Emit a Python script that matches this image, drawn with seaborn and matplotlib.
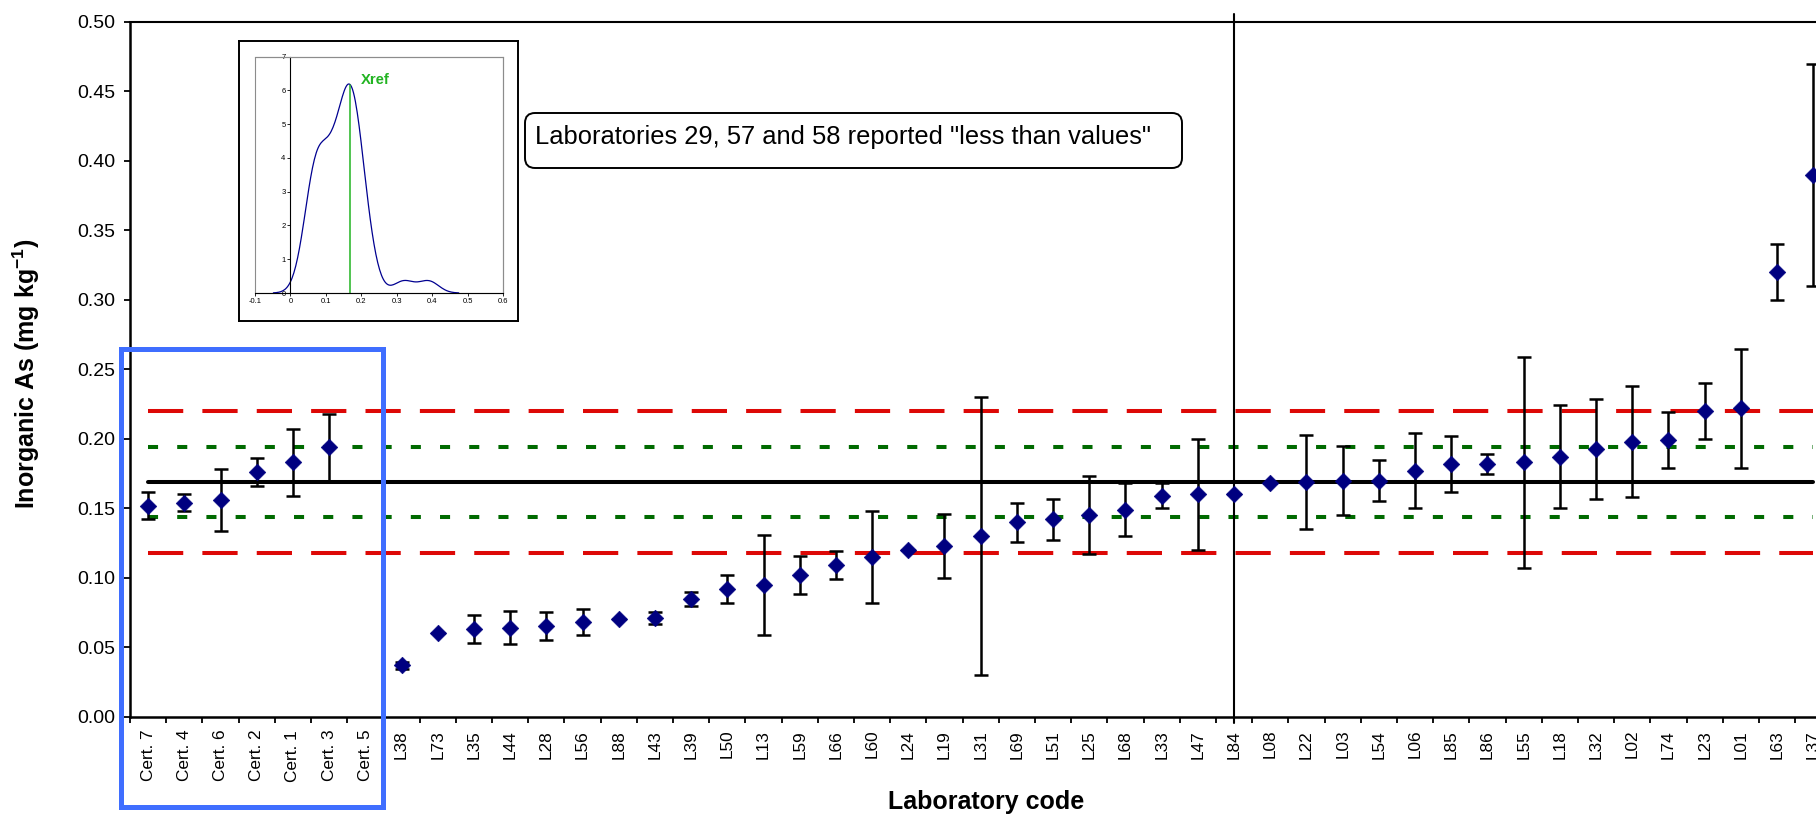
import numpy as np
import matplotlib
matplotlib.use("Agg")
import matplotlib.pyplot as plt
from matplotlib.patches import Rectangle, FancyBboxPatch
from matplotlib.ticker import FormatStrFormatter
import seaborn as sns

# ---------------------------------------------------------------- data
codes = ["Cert. 7", "Cert. 4", "Cert. 6", "Cert. 2", "Cert. 1", "Cert. 3", "Cert. 5",
         "L38", "L73", "L35", "L44", "L28", "L56", "L88", "L43", "L39", "L50", "L13",
         "L59", "L66", "L60", "L24", "L19", "L31", "L69", "L51", "L25", "L68", "L33",
         "L47", "L84", "L08", "L22", "L03", "L54", "L06", "L85", "L86", "L55", "L18",
         "L32", "L02", "L74", "L23", "L01", "L63", "L37"]
values = [0.152, 0.154, 0.156, 0.176, 0.183, 0.194, np.nan,
          0.037, 0.060, 0.063, 0.064, 0.065, 0.068, 0.070, 0.071, 0.085, 0.092, 0.095,
          0.102, 0.109, 0.115, 0.120, 0.123, 0.130, 0.140, 0.142, 0.145, 0.149, 0.159,
          0.160, 0.160, 0.168, 0.169, 0.170, 0.170, 0.177, 0.182, 0.182, 0.183, 0.187,
          0.193, 0.198, 0.199, 0.220, 0.222, 0.320, 0.390]
uncert = [0.010, 0.006, 0.022, 0.010, 0.024, 0.024, np.nan,
          0.0025, 0.0, 0.010, 0.012, 0.010, 0.0095, 0.0, 0.004, 0.005, 0.010, 0.036,
          0.014, 0.010, 0.033, 0.0, 0.023, 0.100, 0.014, 0.015, 0.028, 0.019, 0.009,
          0.040, 0.0, 0.0, 0.034, 0.025, 0.015, 0.027, 0.020, 0.007, 0.076, 0.037,
          0.036, 0.040, 0.020, 0.020, 0.043, 0.020, 0.080]
n_cert = 7
xref = 0.169
band_inner = [0.144, 0.194]   # green dotted limits
band_outer = [0.118, 0.220]   # red dashed limits
split_code = "L84"
note = 'Laboratories 29, 57 and 58 reported "less than values"'

# ---------------------------------------------------------------- style
sns.set_theme(style="ticks")
plt.rcParams.update({
    "font.family": ["Liberation Sans", "DejaVu Sans"],
    "mathtext.fontset": "custom",
    "mathtext.rm": "Liberation Sans",
    "mathtext.bf": "Liberation Sans:bold",
    "text.color": "black",
    "axes.labelcolor": "black",
    "axes.edgecolor": "black",
    "xtick.color": "black",
    "ytick.color": "black",
})

NAVY = "#000080"
RED = "#DD0806"
GREEN = "#006A00"
BLUE = "#3F6EFF"

W, H = 1816, 814
fig = plt.figure(figsize=(W / 100, H / 100), dpi=100)
ax = fig.add_axes([130 / W, 97.3 / H, 1701.4 / W, 694.7 / H])

pos = np.arange(len(codes))
last = len(codes) - 1

# reference value and limit lines
for y in band_outer:
    ax.plot([0, last], [y, y], color=RED, lw=2.9, ls=(0, (8.75, 4.75)), zorder=2)
for y in band_inner:
    ax.plot([0, last], [y, y], color=GREEN, lw=2.9, ls=(0, (2.5, 4.75)), zorder=2)
ax.plot([0, last], [xref, xref], color="black", lw=2.9, zorder=2)

# separator line
xs = codes.index(split_code)
ax.plot([xs, xs], [-0.0043, 0.5058], color="black", lw=1.5, clip_on=False, zorder=2.5)

# uncertainties and results
ax.errorbar(pos, values, yerr=uncert, fmt="none", ecolor="black",
            elinewidth=1.8, capsize=4.7, capthick=1.8, zorder=3)
sns.scatterplot(x=pos, y=values, marker="D", s=72, color=NAVY,
                edgecolor=NAVY, linewidth=0.4, zorder=4, ax=ax)

ax.set_xlim(-0.5, len(codes) - 0.5)
ax.set_ylim(0, 0.5)

ax.set_xticks(np.arange(len(codes) + 1) - 0.5)
ax.set_xticklabels([])
ax.set_xticks(pos, minor=True)
ax.set_xticklabels(codes, minor=True, rotation=90, fontsize=12.4)
ax.tick_params(axis="x", which="major", length=4, width=1.3, direction="out")
ax.tick_params(axis="x", which="minor", length=0, pad=9.4)

ax.set_yticks(np.arange(0, 0.501, 0.05))
ax.yaxis.set_major_formatter(FormatStrFormatter("%.2f"))
ax.tick_params(axis="y", length=4.3, width=1.3, pad=6.5, labelsize=14)

for side in ["left", "bottom"]:
    ax.spines[side].set_linewidth(1.8)
for side in ["top", "right"]:
    ax.spines[side].set_linewidth(1.5)

ax.set_ylabel(r"Inorganic As (mg kg$^{\mathbf{-1}}$)", fontsize=18, fontweight="bold")
ax.set_xlabel("Laboratory code", fontsize=18, fontweight="bold")
ax.yaxis.set_label_coords(-0.0517, 0.4933)
ax.xaxis.set_label_coords(0.503, -0.1055)

# box around the certified reference materials
ax.add_patch(Rectangle((-0.757, -0.065), 7.24, 0.3296, fill=False, ec=BLUE,
                       lw=3.6, clip_on=False, zorder=5))

# note box
fig.add_artist(FancyBboxPatch((5.25, 6.46), 6.57, 0.55,
                              boxstyle="round,pad=0,rounding_size=0.1",
                              transform=fig.dpi_scale_trans,
                              fc="white", ec="black", lw=1.4, zorder=6))
fig.text(535 / W, (H - 137) / H, note, fontsize=18.4, ha="left", va="center", zorder=7)

# ---------------------------------------------------------------- inset: kernel density
frame = fig.add_axes([239 / W, (H - 321) / H, 279 / W, 280 / H])
frame.set_xticks([])
frame.set_yticks([])
frame.set_facecolor("white")
for sp in frame.spines.values():
    sp.set_linewidth(1.4)
    sp.set_color("black")

axin = fig.add_axes([255 / W, (H - 293) / H, 248 / W, 236.3 / H])
lab_values = np.array(values[n_cert:])
sns.kdeplot(x=lab_values, ax=axin, color="#000090", linewidth=0.9, bw_adjust=0.85)
axin.set_xlim(-0.1, 0.6)
axin.set_ylim(0, 7)
axin.set_xlabel("")
axin.set_ylabel("")

axin.spines["left"].set_position(("data", 0))
for side in ["left", "bottom"]:
    axin.spines[side].set_color("black")
    axin.spines[side].set_linewidth(0.8)
for side in ["top", "right"]:
    axin.spines[side].set_color("#8c8c8c")
    axin.spines[side].set_linewidth(0.8)
axin.add_patch(Rectangle((0, 0), 1, 1, transform=axin.transAxes, fill=False,
                         ec="#8c8c8c", lw=0.8, clip_on=False, zorder=0))

xt = np.round(np.arange(-0.1, 0.61, 0.1), 1)
axin.set_xticks(xt)
axin.set_xticklabels(["%g" % t for t in xt])
axin.set_yticks(range(8))
axin.tick_params(labelsize=5.5, length=2, width=0.6, pad=1.5)

kx, ky = axin.lines[0].get_data()
peak = np.interp(xref, kx, ky)
axin.plot([xref, xref], [0, peak], color="#22B422", lw=1.1)
axin.text(0.198, 6.19, "Xref", color="#22B422", fontsize=10.7,
          fontweight="bold", ha="left", va="baseline")

fig.savefig("out.png", dpi=100)
